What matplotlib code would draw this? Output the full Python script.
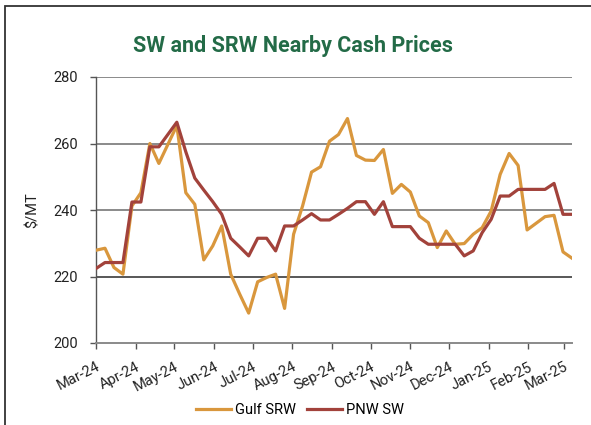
import numpy as np
import pandas as pd
import matplotlib
matplotlib.use("Agg")
import matplotlib.pyplot as plt
import matplotlib.dates as mdates
from matplotlib.patches import Rectangle

plt.rcParams['font.family'] = ['Roboto', 'DejaVu Sans']

# weekly observations, Mar 2024 - Mar 2025
dates = pd.date_range('2024-03-01', periods=54, freq='7D')

gulf_srw = [227.9, 228.5, 222.7, 220.7, 241.2, 245.2, 260.0, 254.0, 259.7, 265.4,
            245.2, 241.7, 225.0, 229.2, 235.2, 220.7, 214.7, 209.0, 218.4, 219.7,
            220.7, 210.4, 232.7, 241.2, 251.4, 253.0, 260.7, 262.7, 267.5, 256.4,
            255.0, 254.9, 258.2, 245.0, 247.7, 245.4, 238.2, 236.2, 228.7, 233.7,
            229.7, 229.9, 232.7, 234.7, 239.7, 250.7, 257.0, 253.4, 234.0, 236.0,
            238.0, 238.4, 227.4, 225.5]

pnw_sw = [222.4, 224.2, 224.2, 224.2, 242.4, 242.4, 259.0, 259.0, 262.7, 266.4,
          257.5, 249.6, 246.0, 242.5, 238.7, 231.5, 228.9, 226.2, 231.5, 231.5,
          227.7, 235.2, 235.2, 237.0, 238.9, 237.0, 237.0, 238.7, 240.5, 242.5,
          242.5, 238.7, 242.5, 235.0, 235.0, 235.0, 231.5, 229.7, 229.7, 229.7,
          229.7, 226.2, 227.7, 233.2, 237.2, 244.2, 244.2, 246.2, 246.2, 246.2,
          246.2, 248.0, 238.7, 238.7]

y_ticks = [200, 220, 240, 260, 280]

fig = plt.figure(figsize=(5.91, 4.25), dpi=100)
ax = fig.add_axes([96/591, 1-343/425, (572-96)/591, (343-77)/425])

# outer frame of the chart
fig.patches.append(Rectangle((5/591, -0.1), 1.2, 1 - 6/425 + 0.1, transform=fig.transFigure,
                             fill=False, edgecolor='#333333', linewidth=1.3))

for y in y_ticks[1:]:
    if y == 220:
        ax.axhline(y, color='#2a2a2a', lw=1.1, zorder=1)
    else:
        ax.axhline(y, color='#8a8a8a', lw=1.4, zorder=1)

ax.plot(dates, gulf_srw, color='#D9973D', lw=2.3, label='Gulf SRW', zorder=3)
ax.plot(dates, pnw_sw, color='#A2423B', lw=2.3, label='PNW SW', zorder=4)

ax.set_xlim(dates[0], dates[-1])
ax.set_ylim(200, 280)
ax.set_yticks(y_ticks)
ax.xaxis.set_major_locator(mdates.MonthLocator())
ax.xaxis.set_major_formatter(mdates.DateFormatter('%b-%y'))

for s in ['top', 'right']:
    ax.spines[s].set_visible(False)
ax.spines['left'].set_color('#555555')
ax.spines['left'].set_linewidth(1.0)
ax.spines['bottom'].set_color('#8a8a8a')
ax.spines['bottom'].set_linewidth(1.4)

ax.tick_params(axis='y', length=4.3, width=1.0, color='#555555', pad=9,
               labelsize=10.5, labelcolor='#222222')
ax.tick_params(axis='x', length=4, width=1.0, color='#555555', pad=8,
               labelsize=10.5, labelcolor='#222222')
for lab in ax.get_xticklabels():
    lab.set_rotation(27)
    lab.set_ha('right')
    lab.set_rotation_mode('anchor')

fig.text(33/591, 1-210/425, '$/MT', rotation=90, ha='center', va='center',
         fontsize=10.5, color='#222222')

fig.text(293/591, 1-46/425, 'SW and SRW Nearby Cash Prices', ha='center', va='center',
         fontsize=15.5, fontweight='bold', color='#236B47')

fig.legend(loc='center', bbox_to_anchor=(300/591, 1-410/425), ncol=2, frameon=False,
           fontsize=10.5, handlelength=2.4, handletextpad=0.25, columnspacing=0.8)

fig.savefig('out.png', dpi=100)
